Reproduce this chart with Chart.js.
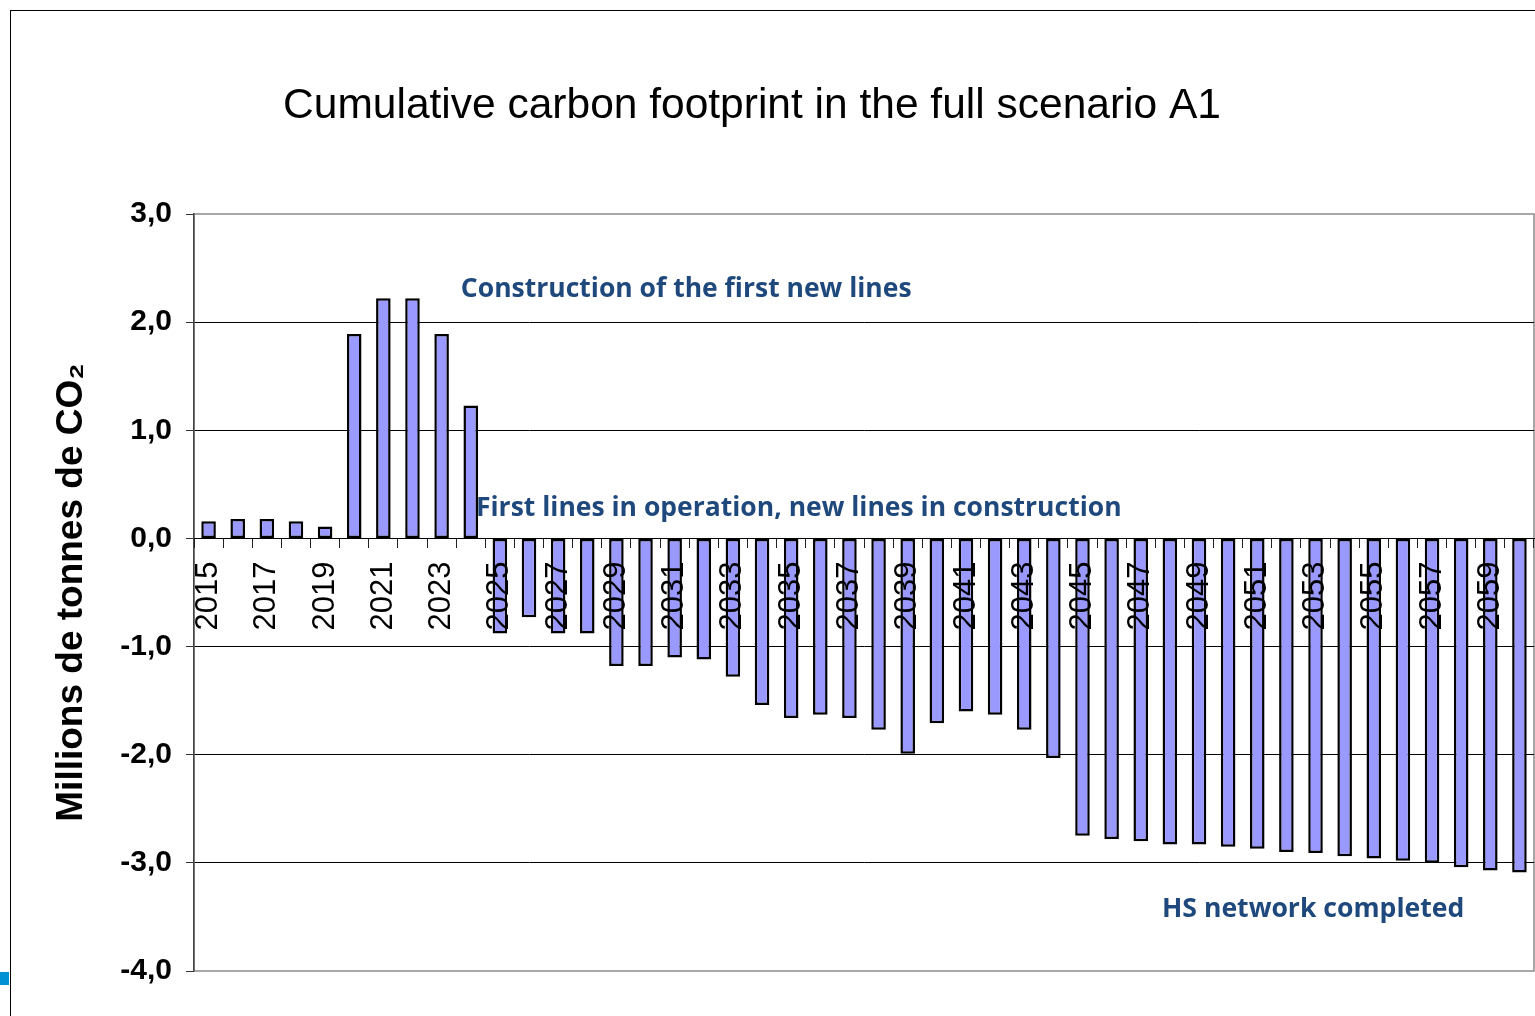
<!DOCTYPE html>
<html>
<head>
<meta charset="utf-8">
<script src="https://cdn.jsdelivr.net/npm/chart.js@4"></script>
<style>
  body { margin: 0; background: #fff; overflow: hidden; }
  #wrap { position: relative; width: 1535px; height: 1016px; }
  #frame { position: absolute; left: 10px; top: 10px; width: 1600px; height: 1100px;
           border-left: 1px solid #000; border-top: 1px solid #000; }
  #mark { position: absolute; left: 0; top: 972px; width: 9px; height: 13px; background: #0091d5; }
  canvas { position: absolute; left: 0; top: 0; }
</style>
</head>
<body>
<div id="wrap">
  <div id="frame"></div>
  <div id="mark"></div>
  <canvas id="myChart" width="1535" height="1016"></canvas>
</div>
<script>
const ctx = document.getElementById('myChart');

// data
const years = ['2015','2016','2017','2018','2019','2020','2021','2022','2023','2024',
               '2025','2026','2027','2028','2029','2030','2031','2032','2033','2034',
               '2035','2036','2037','2038','2039','2040','2041','2042','2043','2044',
               '2045','2046','2047','2048','2049','2050','2051','2052','2053','2054',
               '2055','2056','2057','2058','2059','2060'];
const footprint = [0.16, 0.18, 0.18, 0.16, 0.11, 1.89, 2.22, 2.22, 1.89, 1.23,
                   -0.88, -0.73, -0.88, -0.88, -1.18, -1.18, -1.10, -1.12, -1.28, -1.54,
                   -1.66, -1.63, -1.66, -1.77, -1.99, -1.71, -1.60, -1.63, -1.77, -2.03,
                   -2.75, -2.78, -2.80, -2.83, -2.83, -2.85, -2.87, -2.90, -2.91, -2.94,
                   -2.96, -2.98, -3.00, -3.04, -3.07, -3.09];
const yMin = -4;
const yMax = 3;

const titleText = 'Cumulative carbon footprint in the full scenario A1';
const notes = [
    { text: 'Construction of the first new lines', x: 8.66, y: 2.30, w: 450 },
    { text: 'First lines in operation, new lines in construction', x: 9.18, y: 0.28, w: 646 },
    { text: 'HS network completed', x: 32.73, y: -3.43, w: 302 }
];

const extras = {
    id: 'extras',
    beforeDraw(chart) {
        const c = chart.ctx;
        const a = chart.chartArea;
        c.save();
        c.strokeStyle = '#8c8c8c';
        c.lineWidth = 1.5;
        c.strokeRect(a.left, a.top, a.right - a.left, a.bottom - a.top);
        c.restore();
    },
    afterDraw(chart) {
        const c = chart.ctx;
        const xs = chart.scales.x;
        const ys = chart.scales.y;
        c.save();
        c.fillStyle = '#000';
        c.font = '42.5px "Liberation Sans", Arial, sans-serif';
        c.textAlign = 'center';
        c.textBaseline = 'middle';
        c.fillText(titleText, 752, 106);

        c.fillStyle = '#1f497d';
        c.textAlign = 'left';
        notes.forEach(function (n) {
            c.font = 'bold 100px "Open Sans", sans-serif';
            const size = 100 * n.w / c.measureText(n.text).width;
            c.font = 'bold ' + size.toFixed(1) + 'px "Open Sans", sans-serif';
            c.fillText(n.text, xs.getPixelForValue(n.x), ys.getPixelForValue(n.y));
        });
        c.restore();
    }
};

const myChart = new Chart(ctx, {
    type: 'bar',
    data: {
        labels: years,
        datasets: [{
            data: footprint,
            backgroundColor: '#9999ff',
            borderColor: '#000',
            borderWidth: 2.5,
            borderSkipped: false,
            categoryPercentage: 1,
            barPercentage: 0.5
        }]
    },
    plugins: [extras],
    options: {
        responsive: false,
        animation: false,
        layout: { padding: { top: 214, bottom: 45, left: 0, right: 1 } },
        plugins: {
            legend: { display: false },
            tooltip: { enabled: false }
        },
        scales: {
            x: {
                position: { y: 0 },
                afterFit: function (scale) {
                    scale.paddingLeft = 0;
                    scale.paddingRight = 0;
                },
                grid: {
                    offset: true,
                    drawOnChartArea: false,
                    drawTicks: true,
                    tickLength: 9,
                    tickColor: '#222',
                    z: 1
                },
                border: { color: '#000', width: 1, z: 1 },
                ticks: {
                    z: 1,
                    autoSkip: false,
                    maxRotation: 90,
                    minRotation: 90,
                    padding: 14,
                    color: '#000',
                    font: { family: '"Liberation Sans", Arial, sans-serif', size: 31 },
                    callback: function (value, index) {
                        return index % 2 === 0 ? this.getLabelForValue(value) : '';
                    }
                }
            },
            y: {
                min: yMin,
                max: yMax,
                afterFit: function (scale) { scale.width = 194; },
                ticks: {
                    stepSize: 1,
                    padding: 14,
                    color: '#000',
                    font: { family: '"Liberation Sans", Arial, sans-serif', size: 30, weight: 'bold' },
                    callback: function (value) {
                        return value.toFixed(1).replace('.', ',');
                    }
                },
                grid: {
                    tickLength: 8,
                    tickColor: '#333',
                    lineWidth: 1,
                    color: function (c) {
                        const v = c.tick ? c.tick.value : 0;
                        return (v === yMax || v === yMin) ? 'rgba(0,0,0,0)' : '#000';
                    }
                },
                border: { color: '#444', width: 1.5 },
                title: {
                    display: true,
                    text: 'Millions de tonnes de CO₂',
                    color: '#000',
                    padding: { top: 50, bottom: 0 },
                    font: { family: '"Liberation Sans", Arial, sans-serif', size: 37, weight: 'bold' }
                }
            }
        }
    }
});
</script>
</body>
</html>
